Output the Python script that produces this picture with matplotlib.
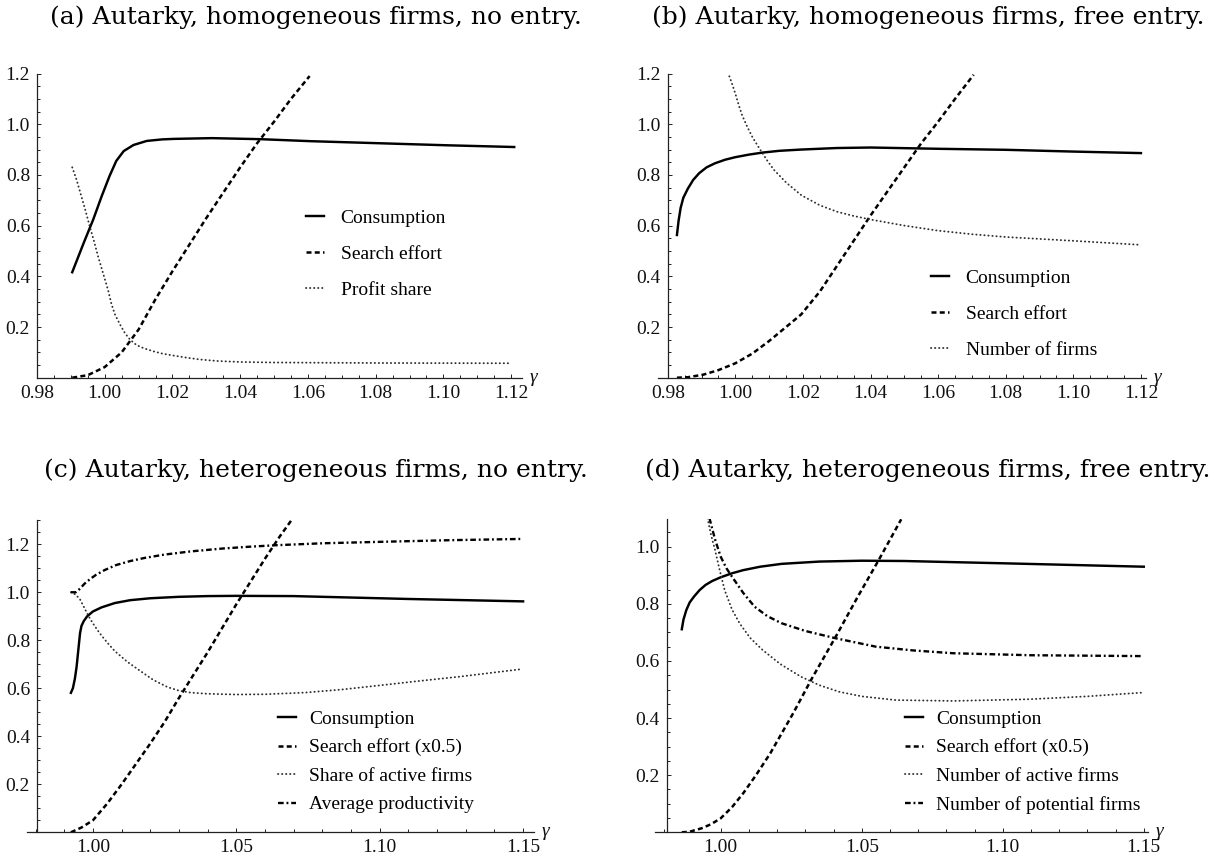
import numpy as np
import matplotlib
matplotlib.use("Agg")
import matplotlib.pyplot as plt
from matplotlib.ticker import MultipleLocator, FixedLocator

W, H = 1218, 860
plt.rcParams['font.family'] = ['Liberation Serif', 'DejaVu Serif']

# ---------------- data ----------------
# (a) homogeneous firms, no entry
a_cons_g = [0.9904, 0.9938, 0.9966, 0.9991, 1.0014, 1.0034, 1.0056, 1.0085, 1.0124, 1.0169, 1.0203,
            1.0316, 1.0458, 1.0608, 1.0808, 1.1006, 1.1209]
a_cons_v = [0.416, 0.532, 0.624, 0.716, 0.795, 0.855, 0.894, 0.918, 0.934, 0.940, 0.942,
            0.945, 0.941, 0.933, 0.925, 0.917, 0.910]
a_search_g = [0.9904, 0.995, 1.000, 1.005, 1.010, 1.015, 1.020, 1.025, 1.030, 1.035, 1.040, 1.045, 1.050, 1.055, 1.0605]
a_search_v = [0.0, 0.01, 0.042, 0.10, 0.19, 0.31, 0.42, 0.525, 0.63, 0.73, 0.83, 0.925, 1.01, 1.10, 1.19]
a_profit_g = [0.9904, 0.9917, 0.993, 0.9943, 0.9955, 0.9968, 0.998, 0.999, 1.000, 1.001, 1.002, 1.003, 1.0045,
              1.006, 1.0075, 1.009, 1.0104, 1.0125, 1.0144, 1.017, 1.020, 1.0242, 1.028, 1.0331, 1.04, 1.05,
              1.08, 1.12]
a_profit_v = [0.83, 0.78, 0.72, 0.66, 0.60, 0.54, 0.48, 0.435, 0.39, 0.345, 0.29, 0.25, 0.21,
              0.175, 0.15, 0.133, 0.122, 0.112, 0.104, 0.095, 0.088, 0.079, 0.072, 0.066, 0.062, 0.060,
              0.058, 0.057]

# (b) homogeneous firms, free entry
b_cons_g = [0.9827, 0.9832, 0.9838, 0.9846, 0.9859, 0.9875, 0.9893, 0.9915, 0.994, 0.997, 1.000, 1.004,
            1.008, 1.013, 1.0195, 1.03, 1.04, 1.06, 1.08, 1.10, 1.12]
b_cons_v = [0.563, 0.62, 0.67, 0.71, 0.745, 0.78, 0.807, 0.83, 0.846, 0.86, 0.87, 0.88,
            0.888, 0.895, 0.90, 0.906, 0.908, 0.903, 0.899, 0.892, 0.886]
b_search_g = [0.9827, 0.986, 0.9905, 0.995, 1.000, 1.005, 1.010, 1.015, 1.0195, 1.025, 1.03, 1.04, 1.05,
              1.055, 1.06, 1.065, 1.0705]
b_search_v = [0.0, 0.002, 0.012, 0.03, 0.057, 0.095, 0.145, 0.20, 0.25, 0.34, 0.44, 0.64, 0.83,
              0.925, 1.01, 1.10, 1.195]
b_firms_g = [0.9978, 0.999, 1.000, 1.001, 1.002, 1.0035, 1.005, 1.0073, 1.0095, 1.0114, 1.015, 1.0195,
             1.025, 1.03, 1.035, 1.04, 1.05, 1.06, 1.07, 1.08, 1.10, 1.12]
b_firms_v = [1.204, 1.16, 1.12, 1.075, 1.035, 0.99, 0.95, 0.90, 0.855, 0.82, 0.77, 0.72,
             0.68, 0.655, 0.638, 0.624, 0.60, 0.58, 0.566, 0.555, 0.54, 0.524]

# (c) heterogeneous firms, no entry
c_cons_g = [0.9923, 0.9930, 0.9937, 0.9943, 0.9949, 0.9955, 0.9960, 0.9968, 0.9980, 1.000, 1.003, 1.0076,
            1.013, 1.020, 1.030, 1.04, 1.05, 1.07, 1.09, 1.11, 1.13, 1.15]
c_cons_v = [0.581, 0.60, 0.64, 0.69, 0.76, 0.83, 0.86, 0.88, 0.90, 0.920, 0.937, 0.955,
            0.967, 0.975, 0.981, 0.984, 0.985, 0.984, 0.978, 0.972, 0.967, 0.962]
c_search_g = [0.9923, 0.996, 1.000, 1.005, 1.010, 1.015, 1.020, 1.025, 1.030, 1.035, 1.040, 1.045, 1.050,
              1.055, 1.060, 1.065, 1.0692]
c_search_v = [0.0, 0.02, 0.05, 0.12, 0.20, 0.285, 0.37, 0.46, 0.56, 0.655, 0.75, 0.85, 0.95,
              1.045, 1.14, 1.23, 1.30]
c_share_g = [0.9923, 0.994, 0.9955, 0.997, 0.9985, 1.000, 1.0023, 1.005, 1.0076, 1.012, 1.017, 1.021,
             1.026, 1.030, 1.034, 1.04, 1.05, 1.06, 1.074, 1.087, 1.10, 1.115, 1.1276, 1.149]
c_share_v = [1.0, 0.99, 0.97, 0.935, 0.90, 0.87, 0.83, 0.79, 0.755, 0.71, 0.668, 0.635,
             0.605, 0.59, 0.582, 0.577, 0.574, 0.575, 0.582, 0.595, 0.612, 0.632, 0.648, 0.679]
c_prod_g = [0.9923, 0.994, 0.9955, 0.997, 0.999, 1.001, 1.004, 1.008, 1.013, 1.018, 1.025, 1.034, 1.045,
            1.055, 1.064, 1.08, 1.10, 1.125, 1.149]
c_prod_v = [1.0, 1.0, 1.015, 1.035, 1.055, 1.072, 1.092, 1.113, 1.13, 1.143, 1.157, 1.17, 1.182,
            1.19, 1.196, 1.204, 1.21, 1.217, 1.222]

# (d) heterogeneous firms, free entry
d_cons_g = [0.9862, 0.9868, 0.9878, 0.989, 0.9905, 0.9925, 0.9946, 0.997, 1.000, 1.004, 1.008, 1.014,
            1.0216, 1.035, 1.05, 1.065, 1.0824, 1.10, 1.125, 1.15]
d_cons_v = [0.711, 0.745, 0.778, 0.805, 0.825, 0.848, 0.866, 0.88, 0.893, 0.907, 0.918, 0.93,
            0.94, 0.948, 0.951, 0.95, 0.946, 0.942, 0.936, 0.93]
d_search_g = [0.9862, 0.989, 0.9932, 0.9965, 1.000, 1.004, 1.008, 1.0125, 1.0176, 1.0257, 1.0324, 1.0405,
              1.0486, 1.056, 1.064]
d_search_v = [0.0, 0.002, 0.014, 0.028, 0.049, 0.088, 0.137, 0.20, 0.277, 0.417, 0.54, 0.68,
              0.825, 0.953, 1.096]
d_active_g = [0.9953, 0.9966, 0.998, 0.9997, 1.0014, 1.004, 1.0068, 1.0105, 1.0149, 1.021, 1.0284, 1.035,
              1.042, 1.05, 1.062, 1.0824, 1.1095, 1.13, 1.1493]
d_active_v = [1.10, 1.04, 0.988, 0.915, 0.848, 0.78, 0.73, 0.68, 0.638, 0.59, 0.545, 0.515,
              0.492, 0.476, 0.463, 0.46, 0.466, 0.476, 0.489]
d_pot_g = [0.996, 0.998, 1.000, 1.002, 1.004, 1.008, 1.012, 1.0165, 1.0216, 1.03, 1.0405, 1.055, 1.068,
           1.0824, 1.11, 1.149]
d_pot_v = [1.10, 1.025, 0.965, 0.925, 0.895, 0.838, 0.79, 0.757, 0.732, 0.705, 0.68, 0.65, 0.637,
           0.627, 0.62, 0.617]

titles = ["(a) Autarky, homogeneous firms, no entry.",
          "(b) Autarky, homogeneous firms, free entry.",
          "(c) Autarky, heterogeneous firms, no entry.",
          "(d) Autarky, heterogeneous firms, free entry."]
labels_a = ["Consumption", "Search effort", "Profit share"]
labels_b = ["Consumption", "Search effort", "Number of firms"]
labels_c = ["Consumption", "Search effort (x0.5)", "Share of active firms", "Average productivity"]
labels_d = ["Consumption", "Search effort (x0.5)", "Number of active firms", "Number of potential firms"]

# ---------------- styles ----------------
SOLID = dict(color='black', lw=1.75, linestyle='-')
DASH = dict(color='black', lw=1.8, linestyle=(0, (2.0, 1.3)))
DOT = dict(color='#2e2e2e', lw=1.35, linestyle=(0, (0.15, 2.0)), dash_capstyle='round')
DASHDOT = dict(color='black', lw=1.7, linestyle=(0, (2.4, 1.2, 0.8, 1.2)))

fig = plt.figure(figsize=(W / 100, H / 100), dpi=100)


def make_axes(x0, x1, y0, y1):
    return fig.add_axes([x0 / W, 1 - y1 / H, (x1 - x0) / W, (y1 - y0) / H])


def style_axes(ax, xlim, ylim, spine_x, xmaj, xmin, ymaj, ymin, xfmt):
    ax.set_xlim(*xlim)
    ax.set_ylim(*ylim)
    for s in ['top', 'right']:
        ax.spines[s].set_visible(False)
    ax.spines['left'].set_position(('data', spine_x))
    for s in ['left', 'bottom']:
        ax.spines[s].set_linewidth(0.9)
        ax.spines[s].set_color('#222222')
    ax.patch.set_visible(False)
    ax.xaxis.set_major_locator(FixedLocator(xmaj))
    ax.xaxis.set_minor_locator(MultipleLocator(xmin))
    ax.yaxis.set_major_locator(FixedLocator(ymaj))
    ax.yaxis.set_minor_locator(MultipleLocator(ymin))
    ax.set_xticklabels([xfmt % v for v in xmaj])
    ax.set_yticklabels(["%.1f" % v for v in ymaj])
    ax.tick_params(which='both', direction='in', color='#222222', width=0.7,
                   labelsize=14, labelcolor='#111111')
    ax.tick_params(which='major', length=3.2, pad=5)
    ax.tick_params(which='minor', length=1.9)
    ax.annotate('γ', xy=(1, 0), xycoords='axes fraction', xytext=(8, -4),
                textcoords='offset pixels', ha='left', va='baseline',
                fontsize=14, style='italic', color='#111111')


def legend(ax, handles, labels, x, y, spacing, hpad):
    ax.legend(handles, labels, loc='upper left', bbox_to_anchor=(x / W, 1 - y / H),
              bbox_transform=fig.transFigure, frameon=False, fontsize=14,
              handlelength=0.9, handletextpad=hpad, labelspacing=spacing,
              borderpad=0, borderaxespad=0)


# ---- panel (a)
ax = make_axes(37, 522, 73.5, 377.7)
l1, = ax.plot(a_cons_g, a_cons_v, **SOLID)
l2, = ax.plot(a_search_g, a_search_v, **DASH)
l3, = ax.plot(a_profit_g, a_profit_v, **DOT)
style_axes(ax, (0.98, 1.1232), (0, 1.2), 0.98,
           [0.98, 1.00, 1.02, 1.04, 1.06, 1.08, 1.10, 1.12], 0.005,
           [0.2, 0.4, 0.6, 0.8, 1.0, 1.2], 0.05, "%.2f")
legend(ax, [l1, l2, l3], labels_a, 306, 209, 0.95, 0.88)

# ---- panel (b)
ax = make_axes(658, 1146, 73.5, 377.7)
l1, = ax.plot(b_cons_g, b_cons_v, **SOLID)
l2, = ax.plot(b_search_g, b_search_v, **DASH)
l3, = ax.plot(b_firms_g, b_firms_v, **DOT)
style_axes(ax, (0.9771, 1.1215), (0, 1.2), 0.98,
           [0.98, 1.00, 1.02, 1.04, 1.06, 1.08, 1.10, 1.12], 0.005,
           [0.2, 0.4, 0.6, 0.8, 1.0, 1.2], 0.05, "%.2f")
legend(ax, [l1, l2, l3], labels_b, 931, 269, 0.95, 0.88)

# ---- panel (c)
ax = make_axes(27, 534, 520, 832.3)
l1, = ax.plot(c_cons_g, c_cons_v, **SOLID)
l2, = ax.plot(c_search_g, c_search_v, **DASH)
l3, = ax.plot(c_share_g, c_share_v, **DOT)
l4, = ax.plot(c_prod_g, c_prod_v, **DASHDOT)
style_axes(ax, (0.977, 1.1538), (0, 1.301), 0.9805,
           [1.00, 1.05, 1.10, 1.15], 0.01,
           [0.2, 0.4, 0.6, 0.8, 1.0, 1.2], 0.05, "%.2f")
legend(ax, [l1, l2, l3, l4], labels_c, 278, 710, 0.56, 0.7)

# ---- panel (d)
ax = make_axes(655, 1148, 519.3, 832.3)
l1, = ax.plot(d_cons_g, d_cons_v, **SOLID)
l2, = ax.plot(d_search_g, d_search_v, **DASH)
l3, = ax.plot(d_active_g, d_active_v, **DOT)
l4, = ax.plot(d_pot_g, d_pot_v, **DASHDOT)
style_axes(ax, (0.9767, 1.1515), (0, 1.096), 0.9808,
           [1.00, 1.05, 1.10, 1.15], 0.01,
           [0.2, 0.4, 0.6, 0.8, 1.0], 0.05, "%.2f")
legend(ax, [l1, l2, l3, l4], labels_d, 905, 710, 0.56, 0.7)

# ---- titles
title_pos = [(316, 17), (928, 17), (316, 470), (928, 470)]
for t, (x, y) in zip(titles, title_pos):
    fig.text(x / W, 1 - y / H, t, ha='center', va='center', fontsize=18,
             family=['DejaVu Serif'], color='black')

fig.savefig('out.png', dpi=100)
